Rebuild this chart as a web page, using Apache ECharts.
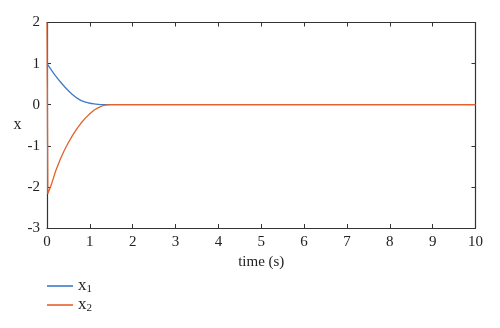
<!DOCTYPE html>
<html><head><meta charset="utf-8">
<script src="https://cdn.jsdelivr.net/npm/echarts@6/dist/echarts.min.js"></script>
<style>html,body{margin:0;padding:0;background:#fff}#c{width:500px;height:328px}</style>
</head><body><div id="c"></div>
<script>
// data
var t1 = [0, 0.1, 0.2, 0.3, 0.4, 0.5, 0.6, 0.7, 0.8, 0.9, 1.0, 1.1, 1.2, 1.3, 1.4, 10];
var x1 = [1.0, 0.85, 0.70, 0.57, 0.45, 0.34, 0.24, 0.16, 0.10, 0.06, 0.035, 0.02, 0.01, 0.003, 0, 0];
var t2 = [0, 0.02, 0.1, 0.2, 0.3, 0.4, 0.5, 0.6, 0.7, 0.8, 0.9, 1.0, 1.1, 1.2, 1.3, 1.4, 1.5, 10];
var x2 = [2.0, -2.17, -1.95, -1.62, -1.35, -1.12, -0.92, -0.74, -0.58, -0.44, -0.32, -0.22, -0.13, -0.07, -0.025, -0.005, 0, 0];
var seriesNames = ['x1', 'x2'];
var xTicks = [0, 10, 1];
var yTicks = [-3, 2, 1];

function pairs(t, v) { return t.map(function (x, i) { return [x, v[i]]; }); }
var font = 'Liberation Serif';
var axisCol = '#333';
var chart = echarts.init(document.getElementById('c'), null, {renderer: 'canvas'});
chart.setOption({
  animation: false,
  backgroundColor: '#fff',
  grid: {left: 47, right: 24.5, top: 22.5, bottom: 100},
  legend: {
    orient: 'vertical', left: 47, top: 276, height: 50, padding: 0,
    itemWidth: 26, itemHeight: 1.6, itemGap: 0,
    icon: 'rect',
    data: seriesNames,
    formatter: function (n) { return '{a|' + n.charAt(0) + '}{b|' + n.slice(1) + '}'; },
    textStyle: {fontFamily: font, color: '#222', lineHeight: 18, rich: {
      a: {fontFamily: font, fontSize: 17, color: '#222', lineHeight: 18},
      b: {fontFamily: font, fontSize: 11, color: '#222', verticalAlign: 'bottom', lineHeight: 18, padding: [8, 0, 0, 0]}
    }}
  },
  xAxis: [{
    type: 'value', min: xTicks[0], max: xTicks[1], interval: xTicks[2],
    name: 'time (s)', nameLocation: 'middle', nameGap: 26,
    nameTextStyle: {fontFamily: font, fontSize: 15, color: '#222'},
    axisLine: {onZero: false, lineStyle: {color: axisCol, width: 1.2}},
    axisTick: {inside: true, length: 4, lineStyle: {color: axisCol}},
    axisLabel: {fontFamily: font, fontSize: 15, color: '#222', margin: 7},
    splitLine: {show: false}
  }, {
    type: 'value', position: 'top', min: xTicks[0], max: xTicks[1], interval: xTicks[2],
    axisLine: {onZero: false, lineStyle: {color: axisCol, width: 1.2}},
    axisTick: {inside: true, length: 4, lineStyle: {color: axisCol}},
    axisLabel: {show: false}, splitLine: {show: false}
  }],
  yAxis: [{
    type: 'value', min: yTicks[0], max: yTicks[1], interval: yTicks[2],
    name: 'x', nameLocation: 'middle', nameGap: 23, nameRotate: 0,
    nameTextStyle: {fontFamily: font, fontSize: 16, color: '#222'},
    axisLine: {onZero: false, lineStyle: {color: axisCol, width: 1.2}},
    axisTick: {inside: true, length: 4, lineStyle: {color: axisCol}},
    axisLabel: {fontFamily: font, fontSize: 15, color: '#222', margin: 7},
    splitLine: {show: false}
  }, {
    type: 'value', position: 'right', min: yTicks[0], max: yTicks[1], interval: yTicks[2],
    axisLine: {onZero: false, lineStyle: {color: axisCol, width: 1.2}},
    axisTick: {inside: true, length: 4, lineStyle: {color: axisCol}},
    axisLabel: {show: false}, splitLine: {show: false}
  }],
  series: [{
    name: seriesNames[0], type: 'line', data: pairs(t1, x1), showSymbol: false, symbol: 'none',
    smooth: 0.2, lineStyle: {color: '#3f7acb', width: 1.3}, itemStyle: {color: '#3f7acb'}
  }, {
    name: seriesNames[1], type: 'line', data: pairs(t2, x2), showSymbol: false, symbol: 'none',
    smooth: false, lineStyle: {color: '#e4612c', width: 1.3}, itemStyle: {color: '#e4612c'}
  }]
});
</script></body></html>
